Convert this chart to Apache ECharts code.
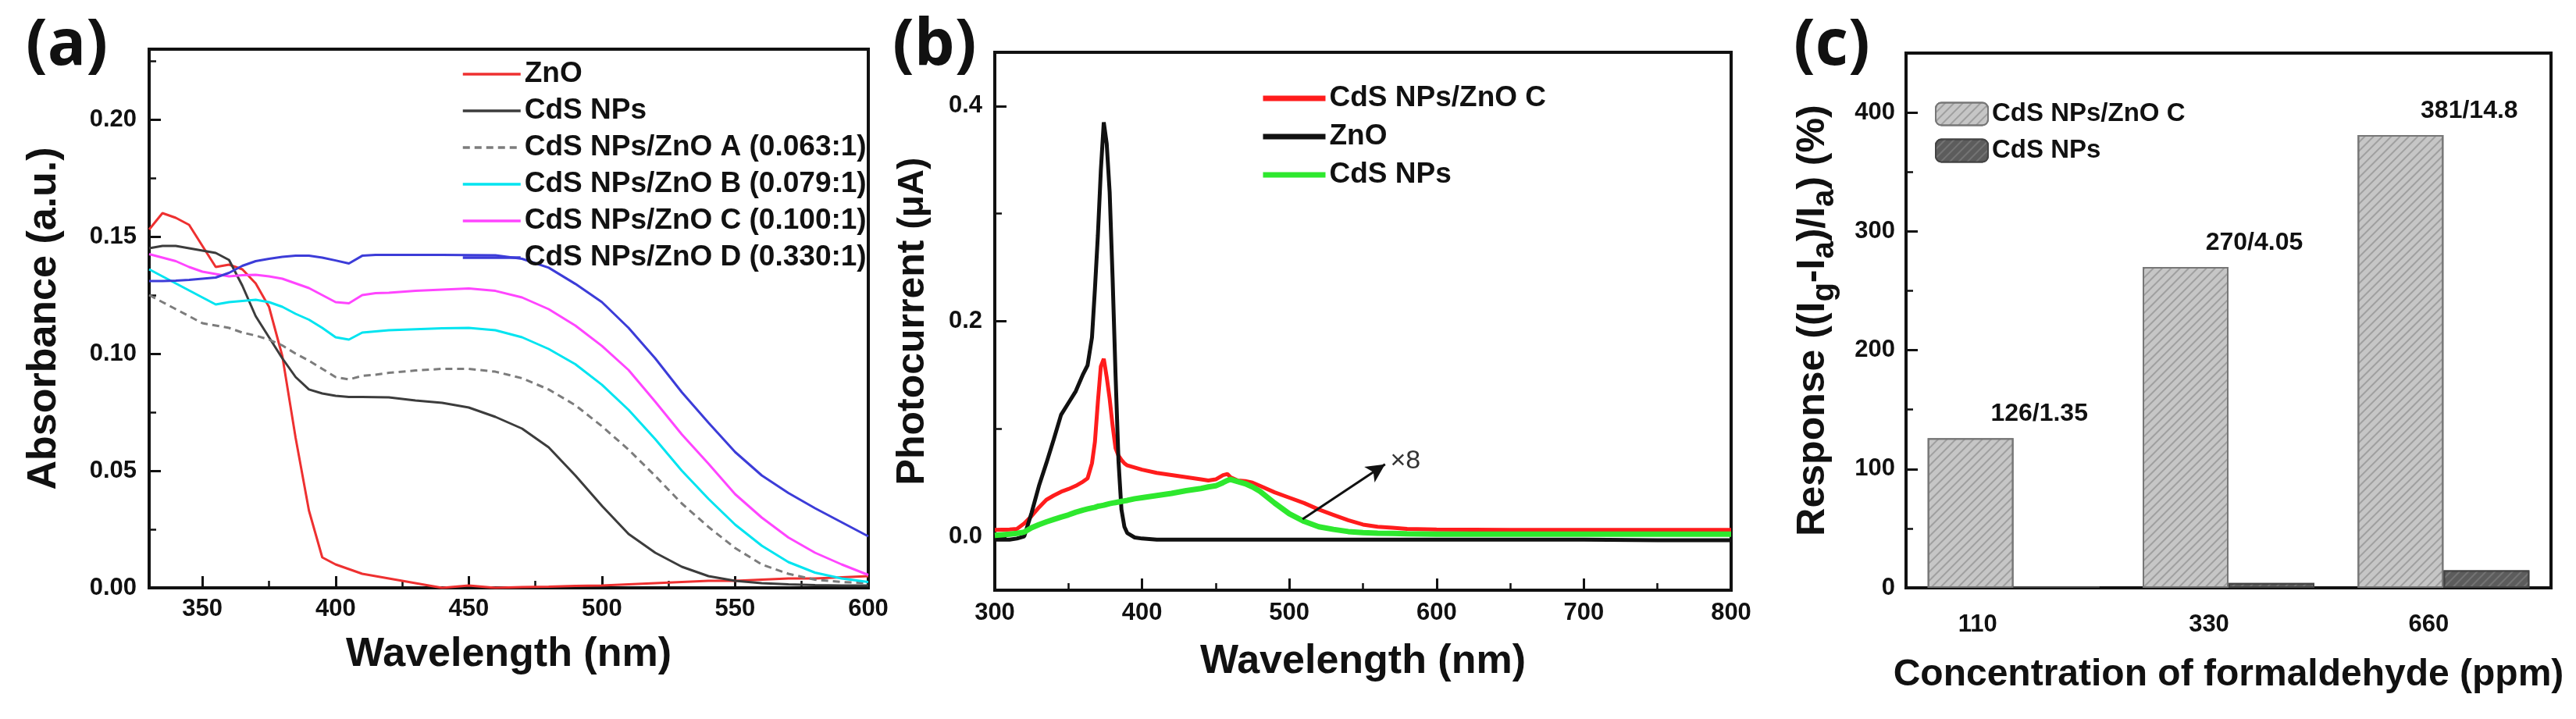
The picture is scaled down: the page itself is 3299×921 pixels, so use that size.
<!DOCTYPE html>
<html><head><meta charset="utf-8">
<script src="https://cdn.jsdelivr.net/npm/echarts@6/dist/echarts.min.js"></script>
<style>html,body{margin:0;padding:0;background:#fff}#c{width:3299px;height:921px}</style>
</head><body><div id="c"></div>
<script>
// ---------- Panel (a): absorbance ----------
const wlA = [330,335,340,345,350,355,360,365,370,375,380,385,390,395,400,405,410,415,420,430,440,450,460,470,480,490,500,510,520,530,540,550,560,570,580,590,600];
const absZnO = [0.153,0.160,0.158,0.155,0.146,0.137,0.138,0.136,0.130,0.120,0.099,0.064,0.033,0.013,0.010,0.008,0.006,0.005,0.004,0.002,0.000,0.001,0.000,0.0003,0.0005,0.0008,0.001,0.0015,0.002,0.0025,0.003,0.003,0.0035,0.004,0.004,0.0045,0.005];
const absCdS = [0.145,0.146,0.146,0.145,0.144,0.143,0.140,0.129,0.116,0.107,0.098,0.090,0.0847,0.083,0.082,0.0815,0.0815,0.0814,0.0813,0.080,0.079,0.077,0.073,0.068,0.060,0.048,0.035,0.023,0.015,0.009,0.005,0.003,0.002,0.0015,0.0012,0.001,0.001];
const absA = [0.125,0.122,0.119,0.116,0.113,0.112,0.111,0.109,0.1077,0.106,0.1035,0.100,0.097,0.0935,0.090,0.089,0.0905,0.091,0.0918,0.0928,0.0935,0.0935,0.0923,0.0895,0.0847,0.078,0.069,0.059,0.0478,0.036,0.026,0.017,0.010,0.006,0.0035,0.0025,0.002];
const absB = [0.136,0.133,0.130,0.127,0.124,0.121,0.122,0.1225,0.123,0.122,0.120,0.117,0.1145,0.111,0.107,0.106,0.109,0.1095,0.110,0.1104,0.1108,0.111,0.110,0.107,0.102,0.0955,0.0867,0.076,0.0635,0.050,0.038,0.027,0.018,0.011,0.0065,0.004,0.0025];
const absC = [0.1425,0.141,0.1395,0.137,0.135,0.134,0.133,0.1335,0.1337,0.133,0.132,0.130,0.128,0.125,0.122,0.1215,0.125,0.1258,0.126,0.1268,0.1273,0.1278,0.1268,0.124,0.119,0.112,0.1033,0.093,0.0795,0.0655,0.053,0.040,0.030,0.0215,0.015,0.010,0.0055];
const absD = [0.131,0.131,0.1312,0.1315,0.132,0.1325,0.1345,0.1375,0.1395,0.1405,0.1413,0.1418,0.1418,0.141,0.1398,0.1385,0.1418,0.1422,0.1422,0.1422,0.1422,0.1421,0.142,0.1405,0.1367,0.1298,0.122,0.111,0.098,0.0835,0.0705,0.058,0.048,0.0405,0.034,0.028,0.022];

// ---------- Panel (b): photocurrent ----------
const wlB = [300,310,315,320,325,330,335,340,345,350,355,360,363,366,368,370,372,374,376,378,380,382,384,386,388,390,395,400,410,420,430,440,445,450,455,458,460,465,470,475,480,490,500,510,520,530,540,550,560,570,580,600,650,700,750,800];
const pcComp = [0.006,0.0065,0.007,0.012,0.019,0.027,0.034,0.038,0.0415,0.044,0.047,0.051,0.054,0.068,0.088,0.125,0.158,0.165,0.148,0.128,0.103,0.082,0.075,0.071,0.068,0.066,0.064,0.062,0.059,0.057,0.055,0.053,0.052,0.053,0.057,0.058,0.055,0.052,0.0515,0.050,0.047,0.041,0.036,0.031,0.025,0.020,0.015,0.011,0.009,0.008,0.007,0.0065,0.006,0.006,0.006,0.006];
const pcZnO = [-0.003,-0.003,-0.002,0.0,0.022,0.047,0.068,0.090,0.113,0.124,0.135,0.151,0.159,0.185,0.230,0.280,0.340,0.385,0.365,0.320,0.240,0.150,0.070,0.025,0.009,0.003,-0.001,-0.002,-0.003,-0.003,-0.003,-0.003,-0.003,-0.003,-0.003,-0.003,-0.003,-0.003,-0.003,-0.003,-0.003,-0.003,-0.003,-0.003,-0.003,-0.003,-0.003,-0.003,-0.003,-0.003,-0.003,-0.003,-0.003,-0.003,-0.0035,-0.0035];
const pcCdS = [0.001,0.002,0.0028,0.004,0.008,0.011,0.0135,0.0158,0.018,0.020,0.0225,0.0245,0.0255,0.0265,0.027,0.028,0.0285,0.029,0.0298,0.0305,0.031,0.0315,0.032,0.0325,0.033,0.0335,0.035,0.036,0.038,0.040,0.0425,0.0445,0.046,0.047,0.050,0.052,0.053,0.051,0.049,0.046,0.042,0.031,0.021,0.014,0.009,0.0065,0.0045,0.0035,0.003,0.0028,0.0025,0.002,0.002,0.002,0.002,0.002];
const arrowB = [[509, 0.016], [565, 0.067]];

// ---------- Panel (c): response ----------
const concCats = ['110', '330', '660'];
const respComp = [126, 270, 381];
const respCdS = [1.35, 4.05, 14.8];

const FF = '"Liberation Sans", Arial, sans-serif';
const K = '#111';
const pairs = (xs, ys) => xs.map((x, i) => [x, ys[i]]);

function valAxis(grid, extra) {
  return Object.assign({
    gridIndex: grid, type: 'value',
    axisLine: { show: true, onZero: false, lineStyle: { color: K, width: 3 } },
    axisTick: { show: true, inside: true, length: 15, lineStyle: { color: K, width: 3 } },
    minorTick: { show: true, splitNumber: 2, length: 9, lineStyle: { color: K, width: 2.5 } },
    splitLine: { show: false }, minorSplitLine: { show: false },
    nameLocation: 'middle',
    nameTextStyle: { fontSize: 52, fontWeight: 'bold', color: K, fontFamily: FF }
  }, extra);
}
const lab = (extra) => Object.assign({ fontSize: 31, fontWeight: 'bold', color: K, fontFamily: FF }, extra);

const chart = echarts.init(document.getElementById('c'));
const gridBase = { show: true, borderColor: K, borderWidth: 4, backgroundColor: '#fff', outerBoundsMode: 'none', containLabel: false };
const line = (name, xs, ys, color, width, xi, extra) => Object.assign({
  name, type: 'line', xAxisIndex: xi, yAxisIndex: xi, data: pairs(xs, ys),
  symbol: 'none', showSymbol: false, smooth: false,
  lineStyle: { color, width }, itemStyle: { color }
}, extra || {});

chart.setOption({
  animation: false,
  backgroundColor: '#fff',
  title: [
    { text: '(a)', left: 28, top: 14, textStyle: { fontSize: 82, fontWeight: 'bold', color: K, fontFamily: '"Open Sans", sans-serif' } },
    { text: '(b)', left: 1138, top: 14, textStyle: { fontSize: 82, fontWeight: 'bold', color: K, fontFamily: '"Open Sans", sans-serif' } },
    { text: '(c)', left: 2292, top: 14, textStyle: { fontSize: 82, fontWeight: 'bold', color: K, fontFamily: '"Open Sans", sans-serif' } }
  ],
  grid: [
    Object.assign({ left: 191, top: 63, width: 921, height: 690 }, gridBase),
    Object.assign({ left: 1274, top: 67, width: 943, height: 689 }, gridBase),
    Object.assign({ left: 2441, top: 68, width: 826, height: 685 }, gridBase)
  ],
  xAxis: [
    valAxis(0, { min: 330, max: 600, splitNumber: 5, name: 'Wavelength (nm)', nameGap: 60,
      axisLine: { show: true, onZero: false, lineStyle: { color: K, width: 4 } },
      axisLabel: lab({ margin: 12, showMinLabel: false, showMaxLabel: true }) }),
    valAxis(1, { min: 300, max: 800, interval: 100, name: 'Wavelength (nm)', nameGap: 66,
      axisLine: { show: true, onZero: false, lineStyle: { color: K, width: 4 } },
      axisLabel: lab({ margin: 14 }) }),
    {
      gridIndex: 2, type: 'category', data: concCats,
      axisLine: { show: true, onZero: false, lineStyle: { color: K, width: 4 } },
      axisTick: { show: false },
      axisLabel: {
        margin: 32, interval: 0,
        formatter: (v, i) => '{s' + i + '|' + v + '}',
        rich: {
          s0: { fontSize: 31, fontWeight: 'bold', color: K, fontFamily: FF, padding: [0, 92, 0, 0] },
          s1: { fontSize: 31, fontWeight: 'bold', color: K, fontFamily: FF, padding: [0, 50, 0, 0] },
          s2: { fontSize: 31, fontWeight: 'bold', color: K, fontFamily: FF, padding: [0, 38, 0, 0] }
        }
      },
      name: 'Concentration of formaldehyde (ppm)', nameLocation: 'middle', nameGap: 88,
      nameTextStyle: { fontSize: 48, fontWeight: 'bold', color: K, fontFamily: FF }
    }
  ],
  yAxis: [
    valAxis(0, { min: 0, max: 0.23, interval: 0.05, name: 'Absorbance (a.u.)', nameGap: 108,
      axisLabel: lab({ margin: 16, showMaxLabel: false, formatter: v => v.toFixed(2) }) }),
    valAxis(1, { min: -0.05, max: 0.45, splitNumber: 3, nameGap: 80,
      name: '{a|Photocurrent }{b|(μA)}',
      nameTextStyle: { color: K, fontFamily: FF, rich: {
        a: { fontSize: 50, fontWeight: 'bold', color: K, fontFamily: FF },
        b: { fontSize: 46, fontWeight: 'bold', color: K, fontFamily: FF } } },
      axisLabel: lab({ margin: 16, showMinLabel: false, showMaxLabel: false, formatter: v => v.toFixed(1) }) }),
    valAxis(2, { min: 0, max: 450, interval: 100, nameGap: 84,
      name: '{n|Response ((I}{s|g}{n|-I}{s|a}{n|)/I}{s|a}{n|) (%)}',
      nameTextStyle: { color: K, fontFamily: FF, rich: {
        n: { fontSize: 50, fontWeight: 'bold', color: K, fontFamily: FF, verticalAlign: 'bottom', padding: [0, 0, 10, 0] },
        s: { fontSize: 40, fontWeight: 'bold', color: K, fontFamily: FF, verticalAlign: 'bottom' } } },
      axisLabel: lab({ margin: 14, showMaxLabel: false }) })
  ],
  legend: [
    { data: ['ZnO', 'CdS NPs', 'CdS NPs/ZnO A (0.063:1)', 'CdS NPs/ZnO B (0.079:1)', 'CdS NPs/ZnO C (0.100:1)', 'CdS NPs/ZnO D (0.330:1)'],
      orient: 'vertical', left: 586, top: 70, itemWidth: 74, itemHeight: 2, itemGap: 7, selectedMode: false,
      lineStyle: { width: 3.5 },
      formatter: n => n.trim(),
      textStyle: { fontSize: 37, fontWeight: 'bold', color: K, fontFamily: FF, lineHeight: 40 } },
    { data: ['CdS NPs/ZnO C', 'ZnO ', 'CdS NPs '],
      orient: 'vertical', left: 1609, top: 101, itemWidth: 80, itemHeight: 2, itemGap: 9, selectedMode: false,
      lineStyle: { width: 7 },
      formatter: n => n.trim(),
      textStyle: { fontSize: 37, fontWeight: 'bold', color: K, fontFamily: FF, lineHeight: 40 } },
    { data: ['CdS NPs/ZnO C  ', 'CdS NPs  '],
      orient: 'vertical', left: 2473, top: 123, itemWidth: 67, itemHeight: 29, itemGap: 11, selectedMode: false,
      formatter: n => n.trim(),
      textStyle: { fontSize: 33, fontWeight: 'bold', color: K, fontFamily: FF, lineHeight: 36 } }
  ],
  series: [
    line('ZnO', wlA, absZnO, '#ee3030', 3, 0),
    line('CdS NPs', wlA, absCdS, '#3c3c3c', 3, 0),
    line('CdS NPs/ZnO A (0.063:1)', wlA, absA, '#7c7c7c', 3, 0, { lineStyle: { color: '#7c7c7c', width: 3, type: [9, 6] } }),
    line('CdS NPs/ZnO B (0.079:1)', wlA, absB, '#00e4f0', 3, 0),
    line('CdS NPs/ZnO C (0.100:1)', wlA, absC, '#ff45ff', 3, 0),
    line('CdS NPs/ZnO D (0.330:1)', wlA, absD, '#3c3cd8', 3, 0),

    line('CdS NPs/ZnO C', wlB, pcComp, '#ff1c1c', 5, 1),
    line('ZnO ', wlB, pcZnO, '#111111', 5, 1),
    line('CdS NPs ', wlB, pcCdS, '#2ee82e', 7, 1, {
      markLine: {
        silent: true, symbol: ['none', 'arrow'], symbolSize: [18, 24], animation: false,
        lineStyle: { color: K, width: 3, type: 'solid' },
        label: { show: true, position: 'end', formatter: '×8', fontSize: 34, color: '#333', fontFamily: FF, distance: 8 },
        data: [[{ coord: arrowB[0] }, { coord: arrowB[1] }]]
      }
    }),

    { name: 'CdS NPs/ZnO C  ', type: 'bar', xAxisIndex: 2, yAxisIndex: 2, data: respComp, barWidth: 110, barGap: '0%',
      itemStyle: { color: '#c6c6c6', borderColor: '#777', borderWidth: 2,
        decal: { symbol: 'rect', symbolSize: 1, dashArrayX: [1, 0], dashArrayY: [2, 6], rotation: -Math.PI / 4, color: 'rgba(110,110,110,0.45)' } },
      label: { show: true, position: 'top', distance: 15, offset: [88, 0], fontSize: 32, fontWeight: 'bold', color: K, fontFamily: FF,
        formatter: p => respComp[p.dataIndex] + '/' + respCdS[p.dataIndex] } },
    { name: 'CdS NPs  ', type: 'bar', xAxisIndex: 2, yAxisIndex: 2, data: respCdS, barWidth: 110, barGap: '0%',
      itemStyle: { color: '#5c5c5c', borderColor: '#444', borderWidth: 2,
        decal: { symbol: 'rect', symbolSize: 1, dashArrayX: [1, 0], dashArrayY: [2, 6], rotation: -Math.PI / 4, color: 'rgba(140,140,140,0.5)' } } }
  ]
});
</script></body></html>
